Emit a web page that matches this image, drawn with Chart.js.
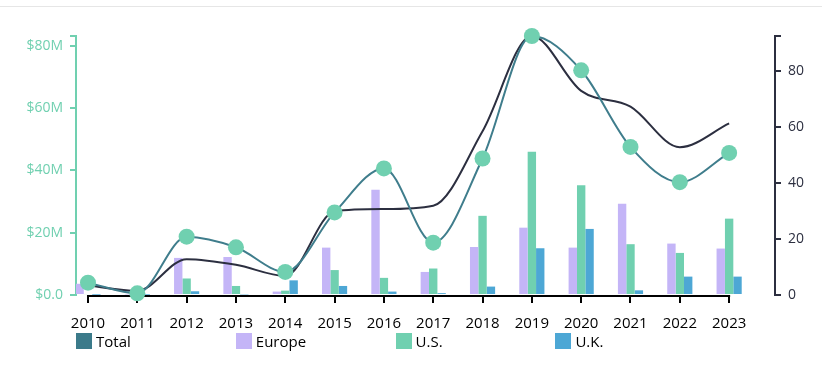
<!DOCTYPE html>
<html>
<head>
<meta charset="utf-8">
<script src="https://cdn.jsdelivr.net/npm/chart.js@4/dist/chart.umd.min.js"></script>
<style>
  html, body { margin: 0; padding: 0; background: #fff; }
  #wrap { position: relative; width: 822px; height: 366px; overflow: hidden; background: #fff; }
  #topline { position: absolute; left: 0; top: 6px; width: 822px; height: 1px; background: #e6e6e6; }
  #c { position: absolute; left: 0; top: 0; }
  #legend { position: absolute; left: 76px; top: 333px; display: flex; font: 15px 'Open Sans', sans-serif; color: #000; }
  .item { width: 159.8px; display: flex; align-items: center; height: 16px; }
  .sw { width: 16px; height: 16px; margin-right: 4px; flex: none; }
</style>
</head>
<body>
<div id="wrap">
  <div id="topline"></div>
  <canvas id="c" width="822" height="366"></canvas>
  <div id="legend"></div>
</div>
<script>
// ---- data ----
const years  = ['2010','2011','2012','2013','2014','2015','2016','2017','2018','2019','2020','2021','2022','2023'];
const total  = [3.95, 0.55, 18.7, 15.3, 7.4, 26.5, 40.6, 16.8, 43.8, 83.1, 72.1, 47.5, 36.2, 45.6];   // $M, left axis
const europe = [3.6, 0.2, 11.9, 12.2, 1.1, 15.2, 33.8, 7.4, 15.4, 21.6, 15.2, 29.3, 16.5, 14.9];      // $M
const us     = [0.3, 0.2, 5.3, 2.9, 1.4, 8.0, 5.5, 8.5, 25.4, 46.0, 35.2, 16.3, 13.5, 24.5];          // $M
const uk     = [0.1, 0.1, 1.2, 0.2, 4.7, 2.9, 1.1, 0.6, 2.7, 15.0, 21.2, 1.5, 5.9, 5.9];              // $M
const count  = [3.4, 1.5, 12.8, 10.8, 6.8, 29.9, 30.7, 31.9, 58.5, 92.5, 72.9, 67.3, 52.8, 61.3];    // right axis
const leftTicks  = [0, 20, 40, 60, 80];
const rightTicks = [0, 20, 40, 60, 80];
const leftMax = 83.1;
const rightMax = 92.5;

// ---- styles ----
const GREEN = '#70d0b0';
const LAV = '#c4b5f7';
const BLUE = '#4da7d5';
const TEAL = '#3f7d8c';
const TOTAL_KEY = '#3b7a8a';
const DARK = '#2c2f40';
const FONT = { family: "'Open Sans', sans-serif", size: 14 };
const XFONT = { family: "'Open Sans', sans-serif", size: 15 };

const pts = arr => arr.map((v, i) => ({ x: i, y: v }));

const xAxisLine = {
  id: 'xAxisLine',
  beforeDatasetsDraw(chart) {
    const xs = chart.scales.x;
    const y = chart.chartArea.bottom + 1;
    const ctx = chart.ctx;
    ctx.save();
    ctx.strokeStyle = '#000';
    ctx.lineWidth = 2;
    ctx.beginPath();
    ctx.moveTo(xs.getPixelForValue(0) - 1, y);
    ctx.lineTo(xs.getPixelForValue(years.length - 1) + 1, y);
    ctx.stroke();
    ctx.restore();
  }
};

const chart = new Chart(document.getElementById('c'), {
  data: {
    datasets: [
      { type: 'line', label: 'Total', data: pts(total), yAxisID: 'y', order: 0,
        borderColor: TEAL, backgroundColor: TOTAL_KEY, borderWidth: 2,
        pointBackgroundColor: GREEN, pointBorderColor: GREEN, pointBorderWidth: 0,
        pointRadius: 8, pointHoverRadius: 8, cubicInterpolationMode: 'monotone', clip: false },
      { type: 'line', label: 'Count', data: pts(count), yAxisID: 'y1', order: 1, hideInLegend: true,
        borderColor: DARK, backgroundColor: DARK, borderWidth: 2, pointRadius: 0,
        cubicInterpolationMode: 'monotone', clip: false },
      { type: 'bar', label: 'Europe', data: pts(europe), yAxisID: 'y', order: 2, backgroundColor: LAV,
        categoryPercentage: 0.51, barPercentage: 1.0 },
      { type: 'bar', label: 'U.S.', data: pts(us), yAxisID: 'y', order: 2, backgroundColor: GREEN,
        categoryPercentage: 0.51, barPercentage: 1.0 },
      { type: 'bar', label: 'U.K.', data: pts(uk), yAxisID: 'y', order: 2, backgroundColor: BLUE,
        categoryPercentage: 0.51, barPercentage: 1.0 }
    ]
  },
  options: {
    responsive: false,
    animation: false,
    events: [],
    layout: { padding: { top: 36, bottom: 0, left: 0, right: 0 } },
    plugins: { legend: { display: false }, tooltip: { enabled: false } },
    scales: {
      x: {
        type: 'linear', min: -0.243, max: 13.93, offset: false,
        afterBuildTicks: s => { s.ticks = years.map((_, i) => ({ value: i })); },
        afterFit: s => { s.height = 71; },
        ticks: { autoSkip: false, maxRotation: 0, padding: 12, color: '#000', font: XFONT,
                 callback: (v, i) => years[i] },
        grid: { offset: false, drawOnChartArea: false, drawTicks: true, tickLength: 8, color: '#000', lineWidth: 2 },
        border: { display: false }
      },
      y: {
        position: 'left', min: 0, max: leftMax,
        afterBuildTicks: s => { s.ticks = leftTicks.map(v => ({ value: v })).concat([{ value: leftMax }]); },
        afterFit: s => { s.width = 76; },
        ticks: { color: GREEN, font: FONT, padding: 7,
                 callback: v => leftTicks.includes(v) ? (v === 0 ? '$0.0' : '$' + v + 'M') : '' },
        grid: { drawOnChartArea: false, tickLength: 6, color: GREEN, lineWidth: 2 },
        border: { display: true, color: GREEN, width: 2 }
      },
      y1: {
        position: 'right', min: 0, max: rightMax,
        afterBuildTicks: s => { s.ticks = rightTicks.map(v => ({ value: v })).concat([{ value: rightMax }]); },
        afterFit: s => { s.width = 47; },
        ticks: { color: DARK, font: FONT, padding: 7,
                 callback: v => rightTicks.includes(v) ? String(v) : '' },
        grid: { drawOnChartArea: false, tickLength: 6, color: DARK, lineWidth: 2 },
        border: { display: true, color: DARK, width: 2 }
      }
    }
  },
  plugins: [xAxisLine]
});

// HTML legend built from the chart's datasets
const legend = document.getElementById('legend');
chart.data.datasets.filter(d => !d.hideInLegend).forEach(d => {
  const item = document.createElement('div');
  item.className = 'item';
  const sw = document.createElement('span');
  sw.className = 'sw';
  sw.style.background = d.backgroundColor;
  const tx = document.createElement('span');
  tx.textContent = d.label;
  item.appendChild(sw);
  item.appendChild(tx);
  legend.appendChild(item);
});
</script>
</body>
</html>
